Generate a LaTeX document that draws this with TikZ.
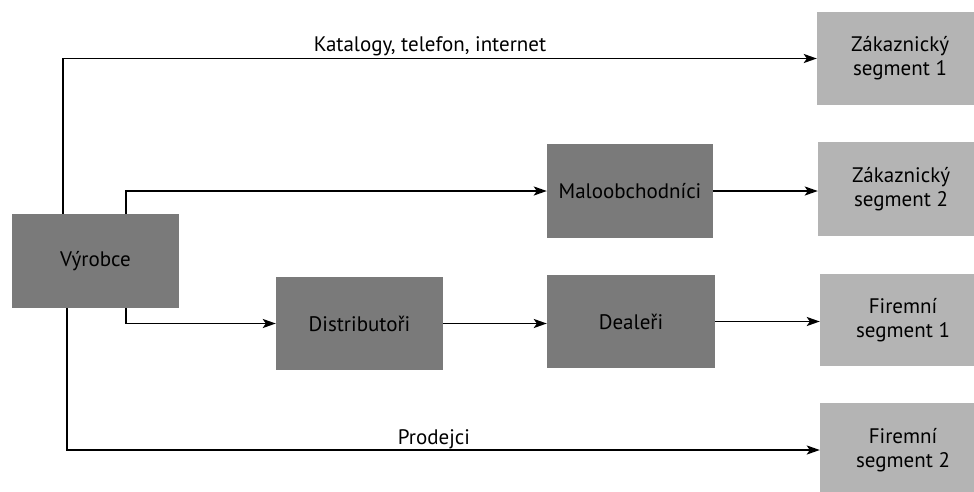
\documentclass[tikz,border=0pt]{standalone}
\usepackage{fontspec}
\setmainfont{PT Sans}
\usetikzlibrary{arrows.meta,calc}
\definecolor{darkbox}{HTML}{7A7A7A}
\definecolor{lightbox}{HTML}{B4B4B4}
\tikzset{
  dbox/.style={fill=darkbox, draw=none, minimum width=167pt, minimum height=94pt, inner sep=0pt, align=center, font=\fontsize{21}{24}\selectfont},
  lbox/.style={fill=lightbox, draw=none, minimum width=166pt, minimum height=93pt, inner sep=0pt, align=center, font=\fontsize{21}{24}\selectfont},
  arr/.style={-{Stealth[length=13pt,width=9pt,inset=3pt]}, line width=1.9pt},
  lbl/.style={font=\fontsize{21}{24}\selectfont, inner sep=0pt}
}
\begin{document}
\begin{tikzpicture}[x=1pt,y=-1pt]
\useasboundingbox[fill=white] (0,0) rectangle (974,491);
\begin{scope}
\clip (0,0) rectangle (974,491);
\node[dbox] (vyr) at (95.5,261) {Výrobce};
\node[dbox, minimum width=166pt] (malo) at (630,191) {Maloobchodníci};
\node[dbox, minimum height=93pt] (dist) at (359.5,323.5) {Distributoři};
\node[dbox, minimum width=168pt, minimum height=93pt] (deal) at (631,321.5) {Dealeři};
\node[lbox] (seg1) at (900,58.5) {Zákaznický\\segment 1};
\node[lbox, minimum height=94pt] (seg2) at (901,189) {Zákaznický\\segment 2};
\node[lbox, minimum height=92pt] (firm1) at (903,320) {Firemní\\segment 1};
\node[lbox, minimum height=94pt] (firm2) at (903,450) {Firemní\\segment 2};
\end{scope}
\coordinate (v1) at (vyr.north -| 63,0);
\coordinate (v2) at (vyr.north -| 126,0);
\coordinate (v3) at (vyr.south -| 126,0);
\coordinate (v4) at (vyr.south -| 67,0);
\draw[arr] (v1) |- (seg1.west);
\draw[arr] (v2) |- (malo.west);
\draw[arr] (v3) |- (dist.west);
\draw[arr] (v4) |- (firm2.west);
\draw[arr] (dist.east) -- (dist.east -| deal.west);
\draw[arr] (deal.east) -- (deal.east -| firm1.west);
\draw[arr] (malo.east) -- (malo.east -| seg2.west);
\node[lbl] (kat) at (430,46) {Katalogy, telefon, internet};
\node[lbl] (prod) at (434,439) {Prodejci};
\end{tikzpicture}
\end{document}
